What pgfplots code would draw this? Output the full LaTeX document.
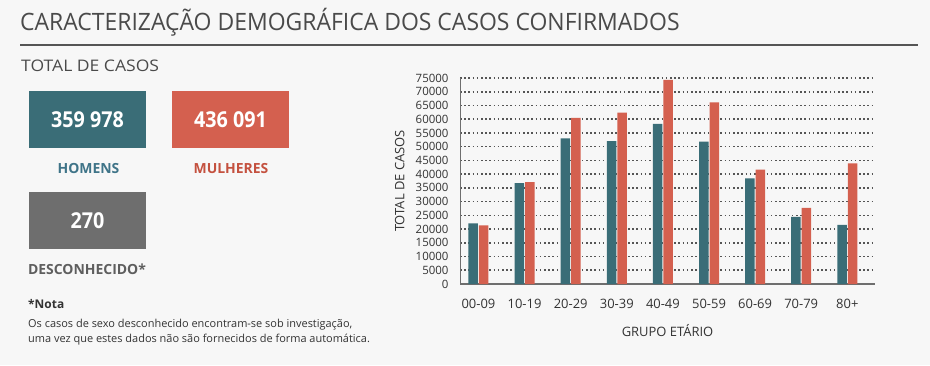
\documentclass[border=0pt]{standalone}
\usepackage{pgfplots}
\pgfplotsset{compat=1.18}
\usepackage{fontspec}
\setmainfont{Open Sans}
\definecolor{bg}{HTML}{F7F7F7}
\definecolor{titlec}{HTML}{4A4A4A}
\definecolor{rulec}{HTML}{555555}
\definecolor{teal}{HTML}{3A6D77}
\definecolor{redc}{HTML}{D4604F}
\definecolor{redtxt}{HTML}{C4513F}
\definecolor{tealtxt}{HTML}{3F7488}
\definecolor{grayb}{HTML}{6E6E6E}
\definecolor{graytxt}{HTML}{5E5E5E}
\definecolor{txt}{HTML}{333333}
\begin{document}
\begin{tikzpicture}[x=1bp,y=1bp]
\fill[bg] (0,0) rectangle (930,365);
\useasboundingbox (0,0) rectangle (930,365);
\node[anchor=base west, inner sep=0, xscale=0.96, font=\fontsize{24}{24}\selectfont, text=titlec] at (20,335) {CARACTERIZAÇÃO DEMOGRÁFICA DOS CASOS CONFIRMADOS};
\draw[line width=2.5bp, rulec] (20,320) -- (918,320);
\node[anchor=base west, inner sep=0, xscale=1.1, font=\fontsize{16}{16}\selectfont, text=titlec] at (21,294) {TOTAL DE CASOS};
\fill[teal] (29,217) rectangle (146,274);
\fill[redc] (172,217) rectangle (289,274);
\fill[grayb] (29,116) rectangle (146,173);
\node[xscale=0.9, font=\fontsize{22}{22}\selectfont\bfseries, text=white] at (87.5,245.5) {359 978};
\node[xscale=0.9, font=\fontsize{22}{22}\selectfont\bfseries, text=white] at (230.5,245.5) {436 091};
\node[xscale=0.9, font=\fontsize{22}{22}\selectfont\bfseries, text=white] at (87.5,144.5) {270};
\node[font=\fontsize{14}{14}\selectfont\bfseries, text=tealtxt] at (88.5,196) {HOMENS};
\node[font=\fontsize{14}{14}\selectfont\bfseries, text=redtxt] at (231,196) {MULHERES};
\node[font=\fontsize{14}{14}\selectfont\bfseries, text=graytxt] at (87,96) {DESCONHECIDO*};
\node[anchor=base west, inner sep=0, font=\fontsize{12}{12}\selectfont\bfseries, text=txt] at (28,57) {*Nota};
\node[anchor=base west, inner sep=0, font=\fontsize{11}{11}\selectfont, text=txt] at (28,38) {Os casos de sexo desconhecido encontram-se sob investigação,};
\node[anchor=base west, inner sep=0, font=\fontsize{11}{11}\selectfont, text=txt] at (28,23) {uma vez que estes dados não são fornecidos de forma automática.};
\begin{axis}[
  at={(460bp,81bp)}, anchor=south west,
  scale only axis, width=415bp, height=206bp,
  ymin=0, ymax=75000, xmin=-0.4, xmax=8.6,
  ybar=1bp, bar width=9.5bp,
  axis lines*=left,
  x axis line style={line width=2bp, color=grayb},
  y axis line style={line width=1bp, color=grayb},
  major tick length=0,
  ytick distance=5000,
  xtick=data,
  xticklabels={00-09,10-19,20-29,30-39,40-49,50-59,60-69,70-79,80+},
  scaled y ticks=false,
  /pgf/number format/.cd, 1000 sep={}, assume math mode=true, /pgfplots/.cd,
  tick label style={font=\fontsize{11.5}{12}\selectfont, text=txt},
  xticklabel style={font=\fontsize{13}{13}\selectfont, yshift=-12bp},
  yticklabel style={xshift=-8bp},
  ymajorgrids,
  grid style={line width=1.6bp, color=rulec, dash pattern=on 1.6bp off 2.6bp},
  xlabel={GRUPO ETÁRIO},
  ylabel={TOTAL DE CASOS},
  xlabel style={at={(axis description cs:0.5,0)}, anchor=center, yshift=-47bp, font=\fontsize{13}{13}\selectfont, text=txt},
  ylabel style={at={(axis description cs:-0.145,0.5)}, anchor=center, font=\fontsize{13}{13}\selectfont, text=txt},
]
\addplot[fill=teal, draw=none] coordinates {(0,22100) (1,36700) (2,53000) (3,52000) (4,58300) (5,51800) (6,38500) (7,24400) (8,21500)};
\addplot[fill=redc, draw=none] coordinates {(0,21300) (1,37100) (2,60500) (3,62400) (4,74300) (5,66100) (6,41600) (7,27700) (8,43900)};
\end{axis}
\end{tikzpicture}
\end{document}
